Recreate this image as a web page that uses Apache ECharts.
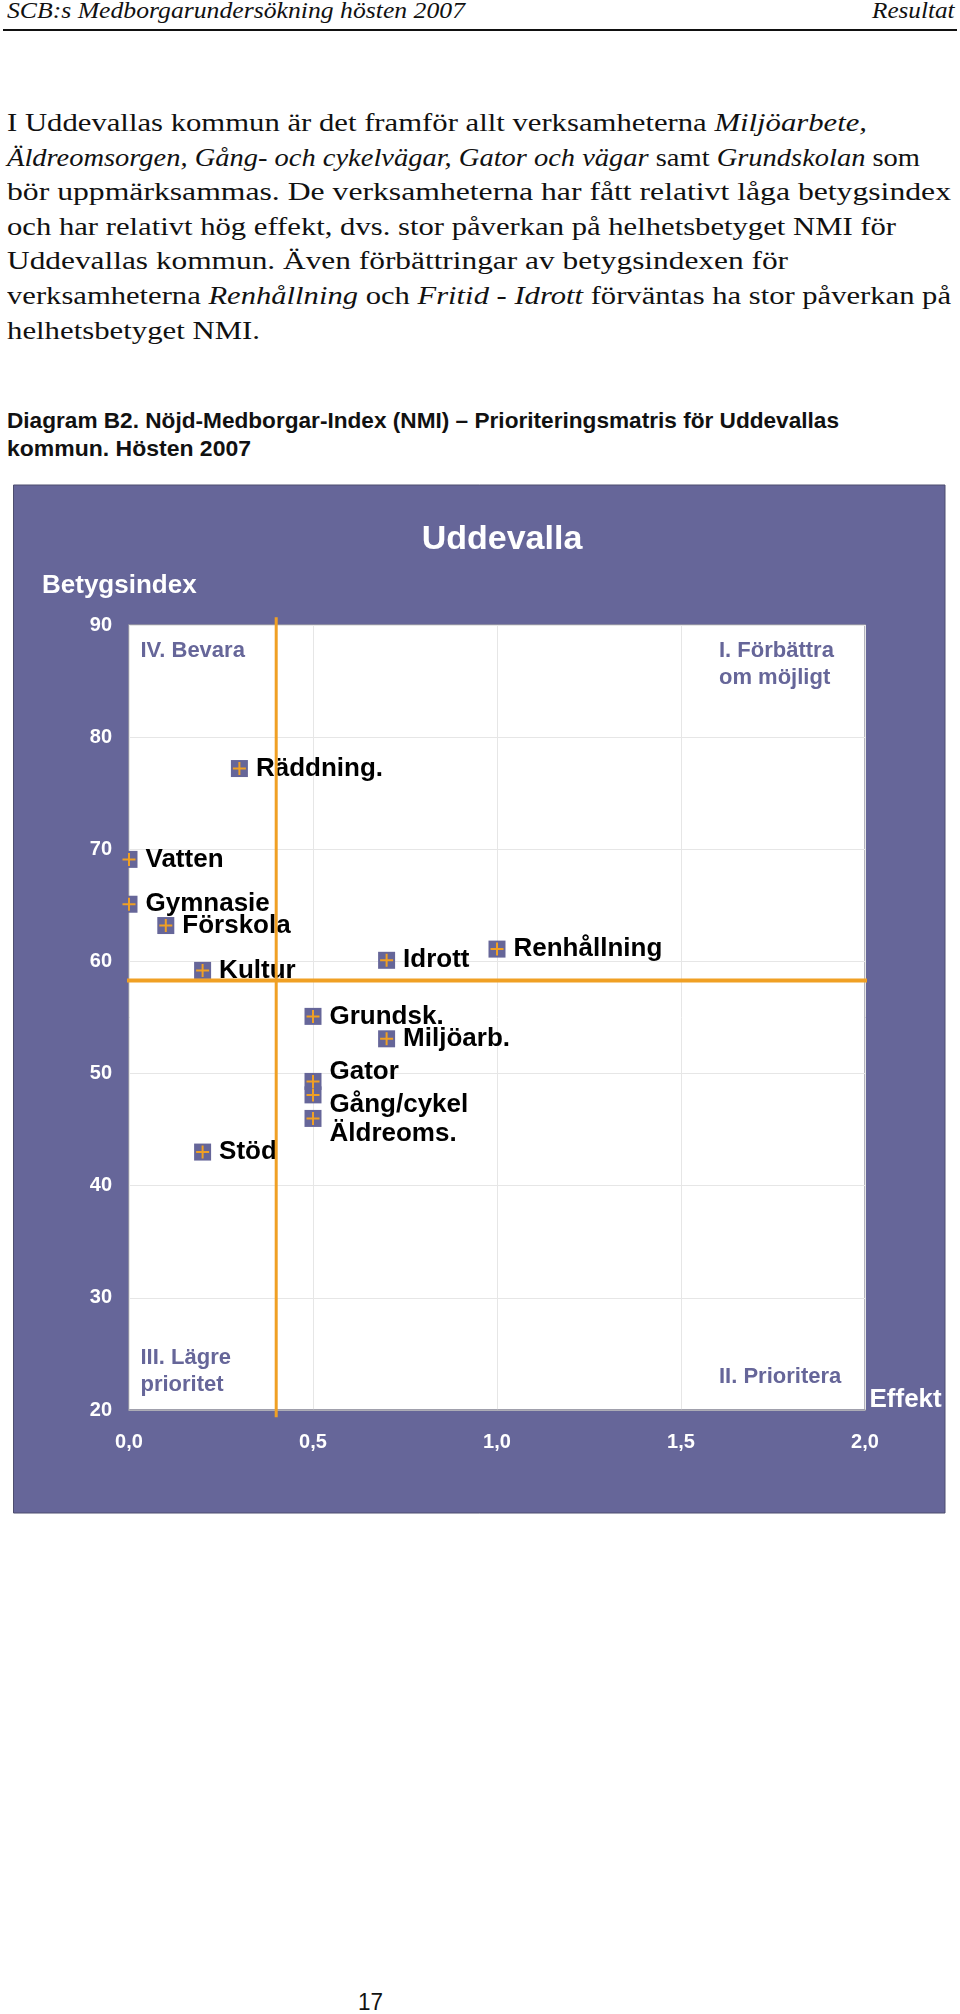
<!DOCTYPE html>
<html>
<head>
<meta charset="utf-8">
<script src="https://cdn.jsdelivr.net/npm/echarts@6/dist/echarts.min.js"></script>
<style>
html,body{margin:0;padding:0;background:#fff;}
body{width:960px;height:2014px;position:relative;overflow:hidden;}
.ln{position:absolute;white-space:nowrap;transform-origin:0 0;color:#111;}
.serif{font-family:'Liberation Serif','DejaVu Serif',serif;}
.sans{font-family:'Liberation Sans',Arial,sans-serif;}
#rule{position:absolute;left:3px;top:29px;width:954px;height:2px;background:#111;}
#chart{position:absolute;left:0;top:0;width:960px;height:2014px;z-index:2;}
</style>
</head>
<body>
<div id="rule"></div>
<div id="texts"></div>
<div id="chart"></div>
<script>
// ---------- data ----------
const services = ['Vatten','Gymnasie','Förskola','Kultur','Räddning.','Idrott','Renhållning','Grundsk.','Miljöarb.','Gator','Gång/cykel','Äldreoms.','Stöd'];
const effekt = [0.0, 0.0, 0.1, 0.2, 0.3, 0.7, 1.0, 0.5, 0.7, 0.5, 0.5, 0.5, 0.2];
const betygsindex = [69.1, 65.1, 63.2, 59.2, 77.2, 60.1, 61.1, 55.1, 53.1, 49.3, 48.1, 46.0, 43.0];
const meanEffekt = 0.4;
const meanBetyg = 58.3;
const xAxisRange = [0, 2];
const yAxisRange = [20, 90];

// ---------- page text ----------
// [html, classes, fontSize, left, baseline, targetWidth, italic]
const pageLines = [
  ['SCB:s Medborgarundersökning hösten 2007','serif',24,7,18.5,458,true],
  ['Resultat','serif',24,871.5,18.5,82.5,true],
  ['I Uddevallas kommun är det framför allt verksamheterna <i>Miljöarbete,</i>','serif',26,7,131.5,860,false],
  ['<i>Äldreomsorgen, Gång- och cykelvägar, Gator och vägar</i> samt <i>Grundskolan</i> som','serif',26,7,166.5,913,false],
  ['bör uppmärksammas. De verksamheterna har fått relativt låga betygsindex','serif',26,7,201,944,false],
  ['och har relativt hög effekt, dvs. stor påverkan på helhetsbetyget NMI för','serif',26,7,235.5,889,false],
  ['Uddevallas kommun. Även förbättringar av betygsindexen för','serif',26,7,270,781,false],
  ['verksamheterna <i>Renhållning</i> och <i>Fritid - Idrott</i> förväntas ha stor påverkan på','serif',26,7,305,944,false],
  ['helhetsbetyget NMI.','serif',26,7,340,253,false],
  ['<b>Diagram B2. Nöjd-Medborgar-Index (NMI) – Prioriteringsmatris för Uddevallas</b>','sans',22,7,429,832,false],
  ['<b>kommun. Hösten 2007</b>','sans',22,7,457,244,false],
  ['17','sans',24,358,2010,25,false]
];
const host = document.getElementById('texts');
const els = [];
pageLines.forEach(([html,cls,fs,left,base,w,it])=>{
  const d = document.createElement('div');
  d.className = 'ln ' + cls;
  d.innerHTML = html;
  d.style.fontSize = fs + 'px';
  d.style.lineHeight = fs + 'px';
  if (it) d.style.fontStyle = 'italic';
  const asc = cls === 'serif' ? 0.8375 : 0.8465;
  d.style.top = (base - asc * fs) + 'px';
  d.style.left = left + 'px';
  host.appendChild(d);
  els.push([d,w]);
});
function fit(){
  els.forEach(([d,w])=>{
    d.style.transform = 'none';
    const nw = d.getBoundingClientRect().width;
    if (nw > 0) d.style.transform = 'scaleX(' + (w / nw) + ')';
  });
}
fit();
if (document.fonts && document.fonts.ready) document.fonts.ready.then(fit);

// ---------- chart ----------
const PURPLE = '#666699';
const ORANGE = '#F0A024';
const FONT = '"Liberation Sans", Arial, sans-serif';
const labelShift = {'Gator': -10, 'Gång/cykel': 10, 'Äldreoms.': 15};

const points = services.map((n,i)=>({
  name: n,
  value: [effekt[i], betygsindex[i]],
  label: {offset: [0, labelShift[n] || 0]}
}));

const chart = echarts.init(document.getElementById('chart'), null, {renderer:'canvas'});
chart.setOption({
  backgroundColor: 'transparent',
  animation: false,
  grid: {
    left: 129, right: 95, top: 625, bottom: 604,
    show: true, backgroundColor: '#ffffff', borderColor: '#9a9aa6', borderWidth: 1.5, z: 0
  },
  xAxis: {
    type: 'value', min: xAxisRange[0], max: xAxisRange[1], interval: 0.5,
    axisLine: {show: true, lineStyle: {color: '#9a9aa6', width: 1.5}},
    axisTick: {show: false},
    splitLine: {show: true, lineStyle: {color: '#e6e6e6', width: 1}},
    axisLabel: {
      color: '#ffffff', fontSize: 20, fontWeight: 'bold', fontFamily: FONT, margin: 22,
      formatter: v => v.toFixed(1).replace('.', ',')
    }
  },
  yAxis: {
    type: 'value', min: yAxisRange[0], max: yAxisRange[1], interval: 10,
    axisLine: {show: false},
    axisTick: {show: false},
    splitLine: {show: true, lineStyle: {color: '#e6e6e6', width: 1}},
    axisLabel: {color: '#ffffff', fontSize: 20, fontWeight: 'bold', fontFamily: FONT, margin: 17}
  },
  series: [
    {
      name: 'markers', type: 'scatter', data: points, clip: false, z: 3,
      symbol: 'rect', symbolSize: 17,
      itemStyle: {color: PURPLE, opacity: 1},
      label: {
        show: true, position: 'right', distance: 8, formatter: '{b}',
        color: '#000', fontSize: 26, fontWeight: 'bold', fontFamily: FONT
      },
      emphasis: {disabled: true}
    },
    {
      name: 'plus', type: 'scatter', data: points.map(p=>({name:p.name, value:p.value})), clip: false, z: 4, silent: true,
      symbol: 'path://M5.5,0h2v5.5h5.5v2h-5.5v5.5h-2v-5.5h-5.5v-2h5.5z', symbolSize: 13,
      itemStyle: {color: ORANGE, opacity: 1},
      label: {show: false},
      emphasis: {disabled: true}
    },
    {
      name: 'meanEffekt', type: 'line', clip: false, z: 6, silent: true,
      symbol: 'none',
      data: [[meanEffekt, yAxisRange[0] - 0.65], [meanEffekt, yAxisRange[1] + 0.7]],
      lineStyle: {color: ORANGE, width: 3}
    },
    {
      name: 'meanBetyg', type: 'line', clip: false, z: 6, silent: true,
      symbol: 'none',
      data: [[xAxisRange[0] - 0.016, meanBetyg], [xAxisRange[1] + 0.022, meanBetyg]],
      lineStyle: {color: ORANGE, width: 4}
    }
  ],
  graphic: [
    {type: 'rect', z: -10, silent: true,
     shape: {x: 13.5, y: 485, width: 931.5, height: 1028},
     style: {fill: PURPLE, stroke: '#4d4d6e', lineWidth: 1}},
    {type: 'text', z: 10, silent: true,
     style: {text: 'Uddevalla', x: 502, y: 540, fill: '#fff', font: 'bold 34px ' + FONT,
             textAlign: 'center', textVerticalAlign: 'middle', align: 'center', verticalAlign: 'middle'}},
    {type: 'text', z: 10, silent: true,
     style: {text: 'Betygsindex', x: 42, y: 586, fill: '#fff', font: 'bold 26px ' + FONT,
             textAlign: 'left', textVerticalAlign: 'middle', align: 'left', verticalAlign: 'middle'}},
    {type: 'text', z: 10, silent: true,
     style: {text: 'IV. Bevara', x: 140.5, y: 651, fill: PURPLE, font: 'bold 22px ' + FONT,
             textAlign: 'left', textVerticalAlign: 'middle', align: 'left', verticalAlign: 'middle'}},
    {type: 'text', z: 10, silent: true,
     style: {text: 'I. Förbättra\nom möjligt', x: 719, y: 664.5, fill: PURPLE, font: 'bold 22px ' + FONT, lineHeight: 27.6,
             textAlign: 'left', textVerticalAlign: 'middle', align: 'left', verticalAlign: 'middle'}},
    {type: 'text', z: 10, silent: true,
     style: {text: 'III. Lägre\nprioritet', x: 140.5, y: 1371.4, fill: PURPLE, font: 'bold 22px ' + FONT, lineHeight: 27.6,
             textAlign: 'left', textVerticalAlign: 'middle', align: 'left', verticalAlign: 'middle'}},
    {type: 'text', z: 10, silent: true,
     style: {text: 'II. Prioritera', x: 719, y: 1377, fill: PURPLE, font: 'bold 22px ' + FONT,
             textAlign: 'left', textVerticalAlign: 'middle', align: 'left', verticalAlign: 'middle'}},
    {type: 'text', z: 10, silent: true,
     style: {text: 'Effekt', x: 869.5, y: 1400, fill: '#fff', font: 'bold 26px ' + FONT,
             textAlign: 'left', textVerticalAlign: 'middle', align: 'left', verticalAlign: 'middle'}}
  ]
});
</script>
</body>
</html>
